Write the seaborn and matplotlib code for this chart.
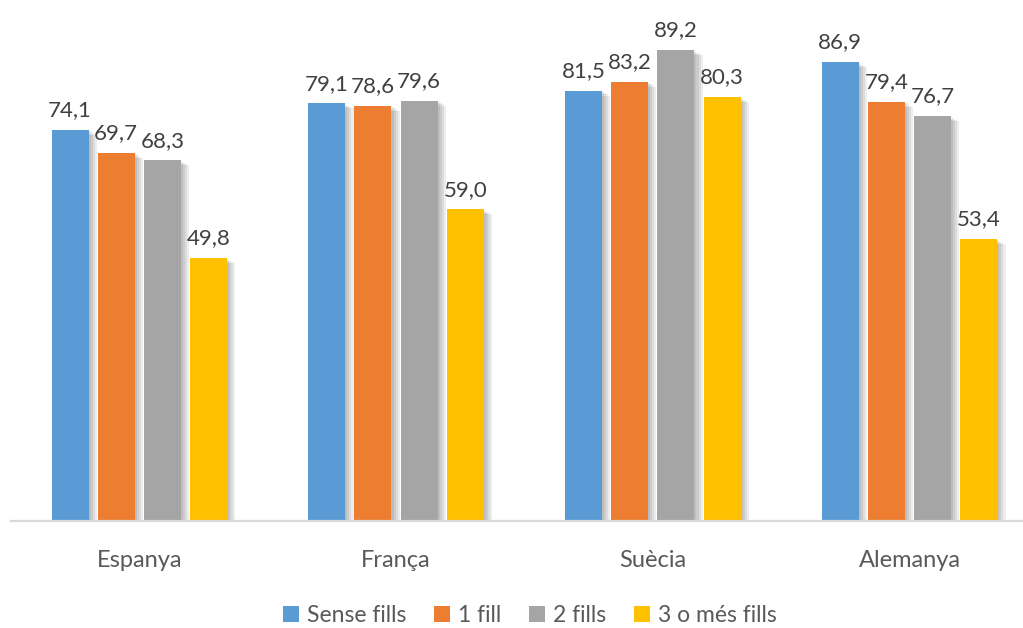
import matplotlib
matplotlib.use("Agg")
import matplotlib.pyplot as plt
import matplotlib.patheffects as pe
from matplotlib.patches import Patch
import seaborn as sns
import pandas as pd

countries = ["Espanya", "França", "Suècia", "Alemanya"]
groups = ["Sense fills", "1 fill", "2 fills", "3 o més fills"]
sense_fills = [74.1, 79.1, 81.5, 86.9]
un_fill = [69.7, 78.6, 83.2, 79.4]
dos_fills = [68.3, 79.6, 89.2, 76.7]
tres_o_mes = [49.8, 59.0, 80.3, 53.4]
colors = ["#5B9BD5", "#ED7D31", "#A5A5A5", "#FFC000"]

series = [sense_fills, un_fill, dos_fills, tres_o_mes]
df = pd.DataFrame({
    "pais": [c for s in series for c in countries],
    "grup": [g for g, s in zip(groups, series) for _ in s],
    "valor": [v for s in series for v in s],
})

sns.set_style("white")
plt.rcParams["font.family"] = ["Lato", "DejaVu Sans"]

fig = plt.figure(figsize=(10.23, 6.28), dpi=100)
ax = fig.add_axes([11 / 1023, 107 / 628, 1012 / 1023, 521 / 628])

sns.barplot(data=df, x="pais", y="valor", hue="grup", order=countries,
            hue_order=groups, palette=colors, width=0.72, gap=0.2,
            saturation=1, legend=False, ax=ax, errorbar=None)

# soft drop shadow on each bar
shadow = [pe.SimplePatchShadow(offset=(k, -k * 0.6), shadow_rgbFace="#000000",
                               alpha=0.07) for k in (1.5, 3, 4.5, 6)]
for p in ax.patches:
    p.set_path_effects(shadow + [pe.Normal()])
    p.set_edgecolor("none")

for cont, vals in zip(ax.containers, series):
    ax.bar_label(cont, labels=[f"{v:.1f}".replace(".", ",") for v in vals],
                 padding=7, fontsize=16, color="#404040")

ax.set_xlim(-0.5, 1012 / 256.7 - 0.5)
ax.set_ylim(0, 521 / 5.28)
ax.set_xlabel("")
ax.set_ylabel("")
ax.set_yticks([])
for side in ("top", "right", "left"):
    ax.spines[side].set_visible(False)
ax.spines["bottom"].set_color("#D9D9D9")
ax.spines["bottom"].set_linewidth(1.6)
ax.tick_params(axis="x", length=0, pad=21, labelsize=17, labelcolor="#595959")

handles = [Patch(facecolor=c, edgecolor="none", label=g) for c, g in zip(colors, groups)]
fig.legend(handles=handles, loc="lower center", bbox_to_anchor=(0.518, -0.03),
           ncol=4, frameon=False, fontsize=16.5, labelcolor="#595959",
           handlelength=0.7, handleheight=0.7, handletextpad=0.35,
           columnspacing=1.2)

fig.savefig("out.png", dpi=100)
